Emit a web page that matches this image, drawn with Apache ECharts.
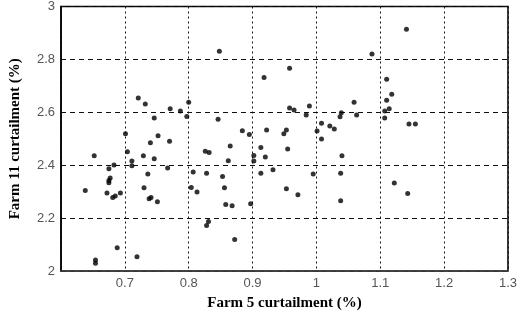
<!DOCTYPE html>
<html>
<head>
<meta charset="utf-8">
<script src="https://cdn.jsdelivr.net/npm/echarts@6/dist/echarts.min.js"></script>
<style>
  html, body {margin: 0; padding: 0; background: #fff;}
  #chart {width: 520px; height: 316px;}
</style>
</head>
<body>
<div id="chart"></div>
<script>
// Farm 5 vs Farm 11 curtailment, one dot per sample.
const farm5 = [
  0.848, 0.721, 0.732, 0.771, 0.787, 0.800, 0.797, 0.846, 0.746, 0.701,
  0.752, 0.740, 0.770, 0.704, 0.652, 0.729, 0.826, 0.832, 0.865, 0.884,
  0.895, 0.902, 0.913, 1.141, 1.087, 0.958, 0.918, 1.110, 1.118, 1.059,
  1.110, 0.958, 0.965, 0.989, 0.984, 1.039, 1.037, 1.063, 1.114, 1.107,
  1.107, 1.145, 1.155, 1.008, 1.021, 1.028, 1.001, 1.008, 0.922, 0.953,
  0.949, 0.955, 1.040, 0.920, 0.711, 0.746, 0.711, 0.683, 0.675, 0.767,
  0.736, 0.677, 0.675, 0.675, 0.638, 0.672, 0.681, 0.685, 0.693, 0.730,
  0.738, 0.741, 0.751, 0.688, 0.719, 0.654, 0.654, 0.862, 0.902, 0.807,
  0.828, 0.853, 0.913, 0.932, 0.804, 0.813, 0.856, 0.858, 0.868, 0.897,
  0.831, 0.828, 0.872, 0.953, 0.995, 1.038, 1.122, 0.971, 1.038, 1.143,
]
const farm11 = [
  2.831, 2.654, 2.631, 2.613, 2.605, 2.638, 2.584, 2.574, 2.578, 2.519,
  2.511, 2.485, 2.491, 2.451, 2.436, 2.436, 2.453, 2.448, 2.473, 2.530,
  2.516, 2.437, 2.467, 2.914, 2.820, 2.767, 2.732, 2.725, 2.668, 2.638,
  2.646, 2.616, 2.609, 2.624, 2.590, 2.598, 2.583, 2.590, 2.613, 2.605,
  2.578, 2.556, 2.556, 2.559, 2.548, 2.537, 2.529, 2.499, 2.533, 2.533,
  2.519, 2.461, 2.436, 2.431, 2.416, 2.424, 2.398, 2.401, 2.387, 2.389,
  2.367, 2.352, 2.342, 2.334, 2.304, 2.295, 2.278, 2.284, 2.295, 2.315,
  2.273, 2.278, 2.262, 2.088, 2.054, 2.042, 2.029, 2.417, 2.416, 2.374,
  2.370, 2.357, 2.370, 2.383, 2.316, 2.299, 2.315, 2.251, 2.247, 2.254,
  2.187, 2.172, 2.119, 2.311, 2.367, 2.370, 2.333, 2.288, 2.266, 2.293,
]
const xRange = [0.6, 1.3, 0.1]
const yRange = [2, 3, 0.2]

const TICK = "#555"
const SANS = "'Liberation Sans', Arial, sans-serif"
const SERIF = "'Liberation Serif', 'Times New Roman', serif"
const fmt = v => String(+v.toFixed(1))

const chart = echarts.init(document.getElementById("chart"), null, {renderer: "canvas"})
chart.setOption({
  animation: false,
  grid: {
    left: 56, right: 11.5, top: 6, bottom: 39.3,
    show: true, borderColor: "#000", borderWidth: 1.5,
  },
  xAxis: {
    type: "value",
    min: xRange[0], max: xRange[1], interval: xRange[2],
    name: "Farm 5 curtailment (%)",
    nameLocation: "middle", nameGap: 25,
    nameTextStyle: {fontFamily: SERIF, fontWeight: "bold", fontSize: 15, color: "#000"},
    axisLine: {show: true, lineStyle: {color: "#444", width: 1.5}},
    axisTick: {show: false},
    axisLabel: {color: TICK, fontFamily: SANS, fontSize: 13, margin: 6, showMinLabel: false, formatter: fmt},
    splitLine: {show: true, lineStyle: {color: "#111", width: 1, type: [2, 3]}},
  },
  yAxis: {
    type: "value",
    min: yRange[0], max: yRange[1], interval: yRange[2],
    name: "Farm 11 curtailment (%)",
    nameLocation: "middle", nameGap: 38,
    nameTextStyle: {fontFamily: SERIF, fontWeight: "bold", fontSize: 15, color: "#000"},
    axisLine: {show: true, lineStyle: {color: "#000", width: 1.5}},
    axisTick: {show: false},
    axisLabel: {color: TICK, fontFamily: SANS, fontSize: 13, margin: 6, formatter: fmt},
    splitLine: {show: true, lineStyle: {color: "#111", width: 1, type: [5, 4]}},
  },
  series: [{
    type: "scatter",
    data: farm5.map((x, i) => [x, farm11[i]]),
    symbol: "circle",
    symbolSize: 5,
    itemStyle: {color: "#000"},
  }],
})
</script>
</body>
</html>
